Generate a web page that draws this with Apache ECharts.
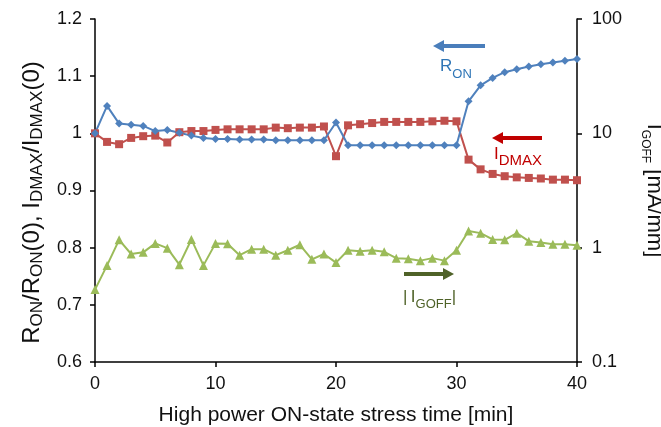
<!DOCTYPE html>
<html>
<head>
<meta charset="utf-8">
<script src="https://cdn.jsdelivr.net/npm/echarts@6/dist/echarts.min.js"></script>
<style>
  html, body { margin: 0; padding: 0; background: #fff; }
  #chart { width: 661px; height: 427px; }
</style>
</head>
<body>
<div id="chart"></div>
<script>
// stress time [min]
const minutes = [0, 1, 2, 3, 4, 5, 6, 7, 8, 9, 10, 11, 12, 13, 14, 15, 16, 17, 18, 19, 20,
  21, 22, 23, 24, 25, 26, 27, 28, 29, 30, 31, 32, 33, 34, 35, 36, 37, 38, 39, 40]

// R_ON / R_ON(0)
const ronNorm = [1.000, 1.048, 1.017, 1.015, 1.013, 1.004, 1.006, 1.001, 0.996, 0.992, 0.990,
  0.990, 0.989, 0.989, 0.989, 0.988, 0.988, 0.988, 0.988, 0.988, 1.019,
  0.979, 0.979, 0.979, 0.979, 0.979, 0.979, 0.979, 0.979, 0.979, 0.979,
  1.056, 1.084, 1.097, 1.107, 1.112, 1.117, 1.121, 1.124, 1.127, 1.130]

// I_DMAX / I_DMAX(0)
const idmaxNorm = [1.000, 0.985, 0.981, 0.992, 0.995, 0.996, 0.984, 1.002, 1.004, 1.004, 1.006,
  1.007, 1.007, 1.007, 1.007, 1.010, 1.009, 1.010, 1.010, 1.012, 0.960,
  1.014, 1.016, 1.018, 1.020, 1.020, 1.020, 1.020, 1.021, 1.022, 1.021,
  0.954, 0.937, 0.929, 0.925, 0.923, 0.922, 0.921, 0.919, 0.919, 0.918]

// |I_GOFF| [mA/mm], log axis
const igoff = [0.43, 0.70, 1.17, 0.88, 0.91, 1.09, 0.99, 0.71, 1.18, 0.70, 1.09,
  1.08, 0.86, 0.97, 0.97, 0.86, 0.95, 1.06, 0.79, 0.88, 0.74,
  0.95, 0.93, 0.95, 0.92, 0.81, 0.80, 0.77, 0.81, 0.77, 0.95,
  1.40, 1.34, 1.18, 1.17, 1.34, 1.14, 1.11, 1.07, 1.07, 1.05]

const rightTicks = [0.1, 1, 10, 100]

const pairs = vals => minutes.map((m, i) => [m, vals[i]])

const chart = echarts.init(document.getElementById('chart'))

const axisFont = 'Liberation Sans, Arial, sans-serif'
const noteFont = 'Lato, sans-serif'

// subscript styles for rich text: main text raised by `drop` px over the subscript
function richSub(main, sub, drop) {
  return {
    n: { fontSize: main, lineHeight: main, verticalAlign: 'bottom', padding: [0, 0, drop, 0] },
    s: { fontSize: sub, lineHeight: sub, verticalAlign: 'bottom' },
  }
}

function arrow(x1, x2, y, color) {
  // x1 = tail, x2 = tip
  const dir = x2 > x1 ? 1 : -1
  const headLen = 11
  return {
    type: 'group',
    children: [
      {
        type: 'line',
        shape: { x1: x1, y1: y, x2: x2 - dir * headLen, y2: y },
        style: { stroke: color, lineWidth: 4 },
      },
      {
        type: 'polygon',
        shape: { points: [[x2, y], [x2 - dir * headLen, y - 6], [x2 - dir * headLen, y + 6]] },
        style: { fill: color },
      },
    ],
  }
}

const option = {
  animation: false,
  grid: { left: 95, right: 84, top: 19, bottom: 65, containLabel: false, outerBoundsMode: 'none' },
  xAxis: {
    type: 'value',
    min: 0, max: 40, interval: 10,
    name: 'High power ON-state stress time [min]',
    nameLocation: 'middle',
    nameGap: 43,
    nameTextStyle: { fontFamily: axisFont, fontSize: 21, color: '#111' },
    axisLine: { lineStyle: { color: '#000', width: 1.5 } },
    axisTick: { length: 5, lineStyle: { color: '#000', width: 1.5 } },
    axisLabel: { fontFamily: axisFont, fontSize: 18, color: '#111', margin: 13 },
    splitLine: { show: false },
  },
  yAxis: [
    {
      type: 'value',
      min: 0.6, max: 1.2, interval: 0.1,
      name: '{n|R}{s|ON}{n|/R}{s|ON}{n|(0), I}{s|DMAX}{n|/I}{s|DMAX}{n|(0)}',
      nameLocation: 'middle',
      nameGap: 49,
      nameRotate: 90,
      nameTextStyle: {
        fontFamily: axisFont, color: '#111',
        padding: [0, 24, 0, 0],
        rich: richSub(24, 17, 2),
      },
      axisLine: { show: true, lineStyle: { color: '#000', width: 1.5 } },
      axisTick: { show: true, length: 5, lineStyle: { color: '#000', width: 1.5 } },
      axisLabel: {
        fontFamily: axisFont, fontSize: 18, color: '#111', margin: 13,
        formatter: v => String(+v.toFixed(1)),
      },
      splitLine: { show: false },
    },
    {
      type: 'log',
      logBase: 10,
      min: rightTicks[0], max: rightTicks[rightTicks.length - 1],
      position: 'right',
      name: '{n|I}{s|GOFF}{n| [mA/mm]}',
      nameLocation: 'middle',
      nameGap: 62,
      nameRotate: -90,
      nameTextStyle: {
        fontFamily: axisFont, color: '#111',
        rich: richSub(22, 12, 4),
      },
      axisLine: { show: true, lineStyle: { color: '#000', width: 1.5 } },
      axisTick: { show: true, length: 5, lineStyle: { color: '#000', width: 1.5 } },
      axisLabel: {
        fontFamily: axisFont, fontSize: 18, color: '#111', margin: 15,
        formatter: v => String(v),
      },
      splitLine: { show: false },
    },
  ],
  series: [
    {
      name: '|IGOFF|',
      type: 'line',
      yAxisIndex: 1,
      data: pairs(igoff),
      symbol: 'triangle',
      symbolSize: 9,
      lineStyle: { color: '#9BBB59', width: 2 },
      itemStyle: { color: '#9BBB59' },
    },
    {
      name: 'IDMAX',
      type: 'line',
      data: pairs(idmaxNorm),
      symbol: 'rect',
      symbolSize: 8,
      lineStyle: { color: '#C0504D', width: 2 },
      itemStyle: { color: '#C0504D' },
    },
    {
      name: 'RON',
      type: 'line',
      data: pairs(ronNorm),
      symbol: 'diamond',
      symbolSize: 8,
      lineStyle: { color: '#4F81BD', width: 2 },
      itemStyle: { color: '#4F81BD' },
    },
  ],
  graphic: [
    arrow(485, 433, 46, '#4A7EBB'),
    arrow(542, 492, 138, '#C00000'),
    arrow(404, 454, 274, '#4F6228'),
    {
      type: 'text', left: 440, top: 58,
      style: {
        text: '{n|R}{s|ON}', fill: '#2E75B6', fontFamily: noteFont,
        rich: richSub(17, 13, 6),
      },
    },
    {
      type: 'text', left: 494, top: 146,
      style: {
        text: '{n|I}{s|DMAX}', fill: '#C00000', fontFamily: noteFont,
        rich: richSub(17, 15, 5),
      },
    },
    {
      type: 'text', left: 403, top: 289,
      style: {
        text: '{n||\u2009I}{s|GOFF}{n||}', fill: '#4F6228', fontFamily: noteFont,
        rich: richSub(17, 13, 5),
      },
    },
  ],
}

chart.setOption(option)
</script>
</body>
</html>
